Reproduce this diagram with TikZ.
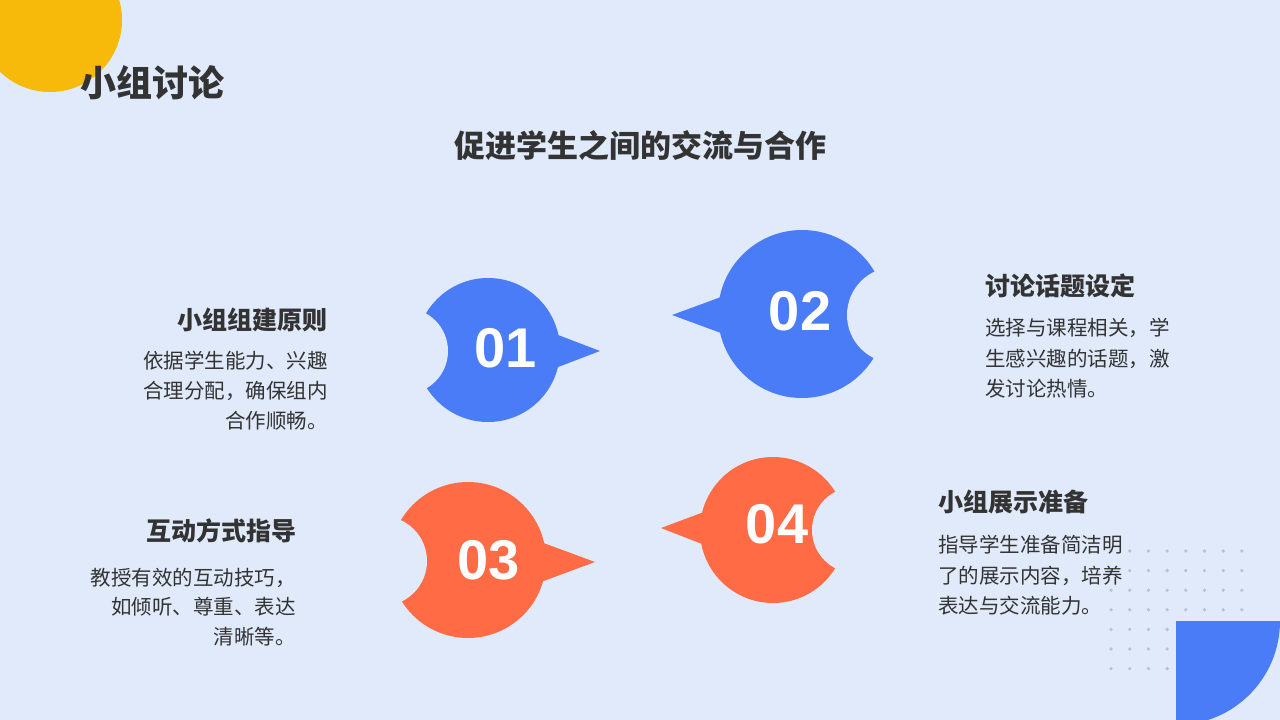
\documentclass[tikz,border=0pt]{standalone}
\usepackage{fontspec}
\setmainfont{Noto Sans CJK SC}
\newfontfamily\numfont{Liberation Sans}
\definecolor{bg}{HTML}{E0EAFB}
\definecolor{bl}{HTML}{4A7CF7}
\definecolor{og}{HTML}{FF6B45}
\definecolor{yl}{HTML}{F7BA0B}
\definecolor{tx}{HTML}{333333}
\definecolor{dt}{HTML}{B9C1D1}
\tikzset{
 hd/.style={font=\fontsize{25}{28}\selectfont\bfseries, text=tx, inner sep=0pt},
 bd/.style={font=\fontsize{20.5}{24}\selectfont, text=tx, inner sep=0pt},
 num/.style={font=\fontsize{56}{56}\selectfont\numfont\bfseries, text=white, inner sep=0pt}
}
\begin{document}
\begin{tikzpicture}[x=1pt,y=-1pt]
\fill[bg] (0,0) rectangle (1280,720);
\useasboundingbox (0,0) rectangle (1280,720);
\fill[yl] (50,20) circle (72);
\node[font=\fontsize{36}{40}\selectfont\bfseries, text=tx, anchor=west, inner sep=0pt] (title) at (80,83) {小组讨论};
\node[font=\fontsize{31}{34}\selectfont\bfseries, text=tx, inner sep=0pt] (sub) at (640,146) {促进学生之间的交流与合作};
% dots
\foreach \i in {0,...,7}{\foreach \j in {0,...,6}{\fill[dt] (1111+\i*18.7,551+\j*19.6) circle (1.8);}}
\fill[bl] (1176,621) -- (1280,621) arc[start angle=0,end angle=90,radius=104] -- cycle;
% 01
\fill[bl] (488,350) circle (72);
\fill[bl] (545,330) -- (600,351) -- (545,372) -- cycle;
\fill[bg] (405,351) circle (43);
\node[num] (n1) at (506,348) {01};
% 02
\fill[bl] (802,314) circle (84);
\fill[bl] (740,290) -- (672,315) -- (740,340) -- cycle;
\fill[bg] (895,315) circle (48);
\node[num] (n2) at (800,311) {02};
% 03
\fill[og] (468,560) circle (78);
\fill[og] (530,538) -- (595,562) -- (530,586) -- cycle;
\fill[bg] (382,561) circle (45);
\node[num] (n3) at (489,560) {03};
% 04
\fill[og] (773,530) circle (73);
\fill[og] (720,506) -- (661,528) -- (720,551) -- cycle;
\fill[bg] (855,530) circle (43);
\node[num] (n4) at (777,524) {04};
% texts 01
\node[hd,anchor=east] (h1) at (328,320) {小组组建原则};
\node[bd,anchor=east] (a1) at (328,361) {依据学生能力、兴趣};
\node[bd,anchor=east] (b1) at (328,391) {合理分配，确保组内};
\node[bd,anchor=east] (c1) at (328,421) {合作顺畅。};
% 02
\node[hd,anchor=west] (h2) at (985,286) {讨论话题设定};
\node[bd,anchor=west] (a2) at (985,328) {选择与课程相关，学};
\node[bd,anchor=west] (b2) at (985,359) {生感兴趣的话题，激};
\node[bd,anchor=west] (c2) at (985,389) {发讨论热情。};
% 03
\node[hd,anchor=east] (h3) at (297,531) {互动方式指导};
\node[bd,anchor=east] (a3) at (296,578) {教授有效的互动技巧，};
\node[bd,anchor=east] (b3) at (296,607) {如倾听、尊重、表达};
\node[bd,anchor=east] (c3) at (296,637) {清晰等。};
% 04
\node[hd,anchor=west] (h4) at (938,502) {小组展示准备};
\node[bd,anchor=west] (a4) at (938,545) {指导学生准备简洁明};
\node[bd,anchor=west] (b4) at (938,576) {了的展示内容，培养};
\node[bd,anchor=west] (c4) at (938,606) {表达与交流能力。};
\end{tikzpicture}
\end{document}
